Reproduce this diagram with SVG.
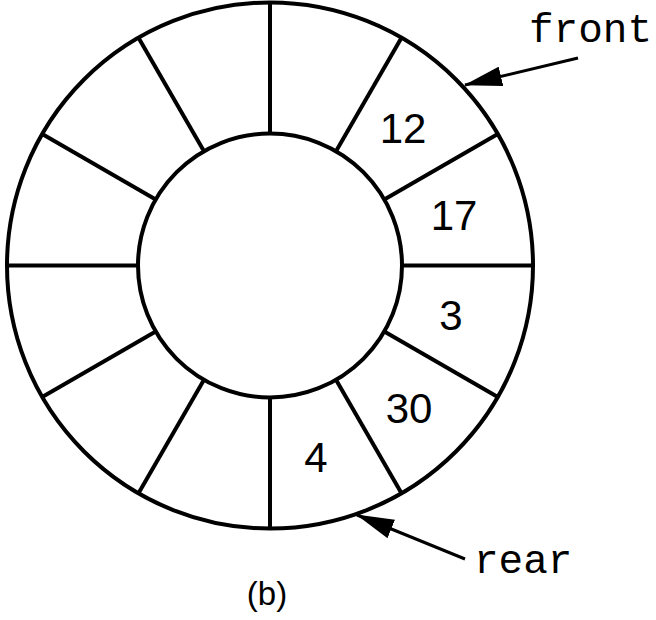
<svg xmlns="http://www.w3.org/2000/svg" width="656" height="620" viewBox="0 0 656 620">
  <defs>
    <style>
      .ring { fill: none; stroke: #000; stroke-width: 4; }
      .spoke { stroke: #000; stroke-width: 4; fill: none; }
      .val { font-family: "Liberation Sans", Arial, sans-serif; font-size: 42px; fill: #000; text-anchor: middle; }
      .ptr { font-family: "Liberation Mono", "Courier New", monospace; font-size: 41px; fill: #000; }
      .cap { font-family: "Liberation Sans", Arial, sans-serif; font-size: 33px; fill: #000; text-anchor: middle; }
      .arrow { stroke: #000; stroke-width: 3; fill: none; marker-end: url(#head); }
    </style>
    <marker id="head" viewBox="0 0 38 20" refX="37" refY="10" markerWidth="38" markerHeight="20" markerUnits="userSpaceOnUse" orient="auto">
      <path d="M0,0 L38,10 L0,20 z" fill="#000"/>
    </marker>
  </defs>
  <rect width="656" height="620" fill="#fff"/>

  <g id="ring">
    <circle class="ring" cx="270" cy="265.5" r="263"/>
    <circle class="ring" cx="270" cy="265.5" r="132"/>
    <g class="spoke">
      <line x1="402" y1="265.5" x2="533" y2="265.5"/>
      <line x1="384.3" y1="199.5" x2="497.8" y2="134"/>
      <line x1="336" y1="151.2" x2="401.5" y2="37.7"/>
      <line x1="270" y1="133.5" x2="270" y2="2.5"/>
      <line x1="204" y1="151.2" x2="138.5" y2="37.7"/>
      <line x1="155.7" y1="199.5" x2="42.2" y2="134"/>
      <line x1="138" y1="265.5" x2="7" y2="265.5"/>
      <line x1="155.7" y1="331.5" x2="42.2" y2="397"/>
      <line x1="204" y1="379.8" x2="138.5" y2="493.3"/>
      <line x1="270" y1="397.5" x2="270" y2="528.5"/>
      <line x1="336" y1="379.8" x2="401.5" y2="493.3"/>
      <line x1="384.3" y1="331.5" x2="497.8" y2="397"/>
    </g>
  </g>

  <g id="cell-12"><text class="val" x="403" y="143">12</text></g>
  <g id="cell-17"><text class="val" x="454" y="230">17</text></g>
  <g id="cell-3"><text class="val" x="451" y="330">3</text></g>
  <g id="cell-30"><text class="val" x="409" y="423">30</text></g>
  <g id="cell-4"><text class="val" x="316" y="472">4</text></g>

  <g id="front-label"><text class="ptr" x="529" y="42">front</text></g>
  <g id="rear-label"><text class="ptr" x="474" y="573">rear</text></g>
  <g id="caption"><text class="cap" x="267" y="605">(b)</text></g>

  <g id="connectors">
    <line class="arrow" x1="578" y1="58" x2="465" y2="85"/>
    <line class="arrow" x1="465" y1="559" x2="357" y2="515"/>
  </g>
</svg>
